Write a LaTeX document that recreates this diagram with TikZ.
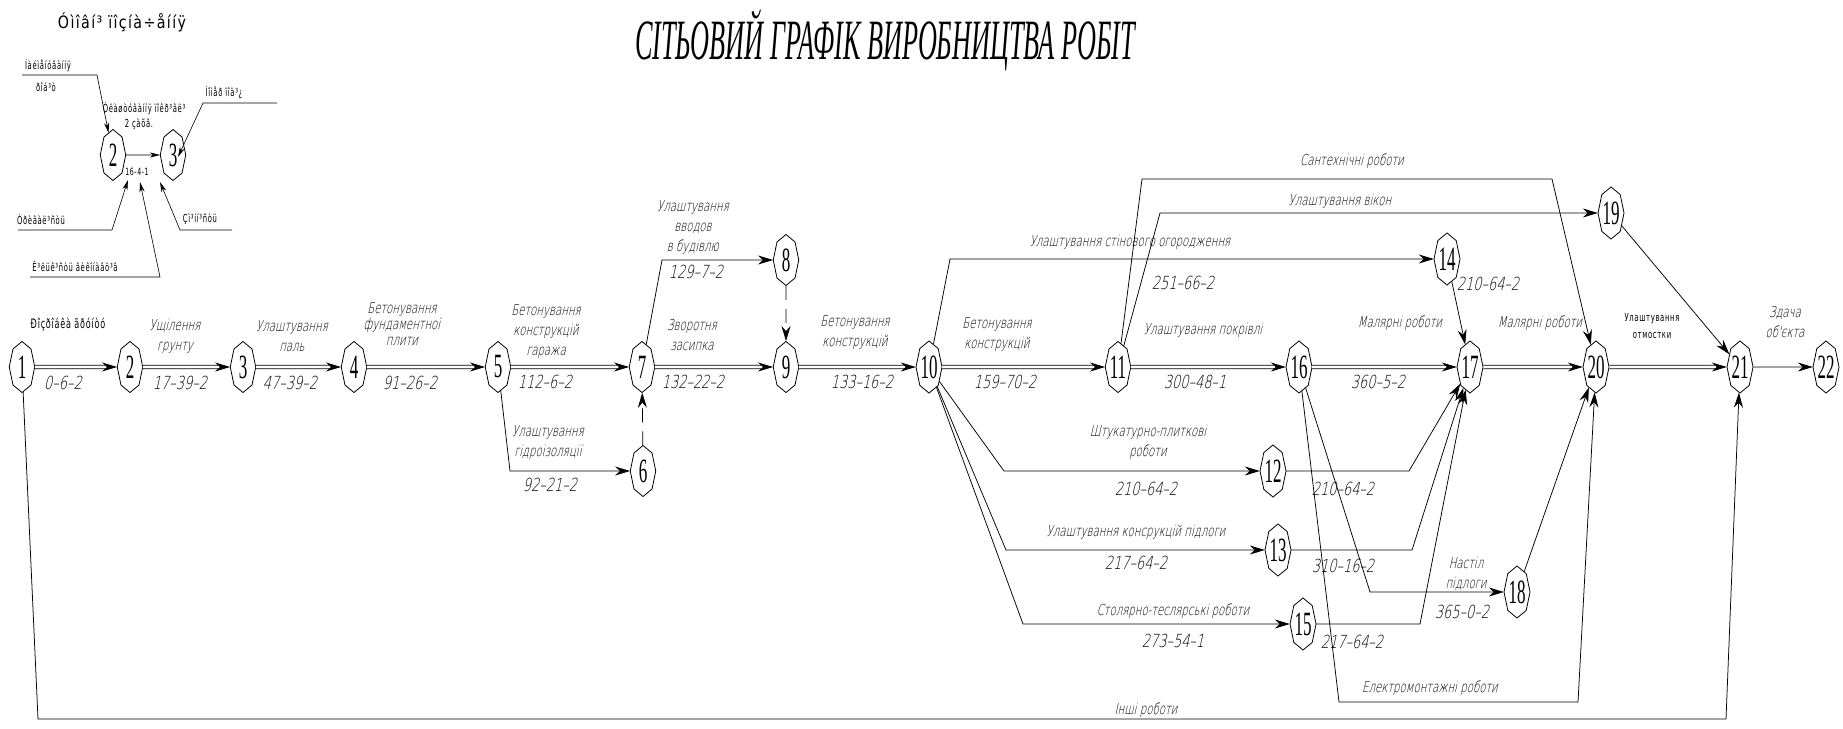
\documentclass[tikz,border=0pt]{standalone}
\usepackage{fontspec}
\usepackage{graphicx}
\usetikzlibrary{shapes.geometric,arrows.meta}
\newfontfamily\lblf[FakeStretch=0.68,FakeSlant=0.22]{DejaVu Sans ExtraLight}
\newfontfamily\numf[FakeStretch=0.72,FakeSlant=0.22]{DejaVu Sans ExtraLight}
\newfontfamily\lgf[FakeStretch=0.62,LetterSpace=6]{DejaVu Sans}
\newfontfamily\serf{Liberation Serif}
\begin{document}
\begin{tikzpicture}[x=1pt,y=-1pt,
  ev/.style={draw, line width=0.8pt, regular polygon, regular polygon sides=8,
    shape border rotate=22.5, minimum size=51pt, inner sep=0pt, xscale=0.5,
    transform shape, font=\serf\fontsize{34}{34}\selectfont},
  crit/.style={double, double distance=2.6pt, line width=0.75pt,
    -{Stealth[length=15pt,width=9pt,inset=5pt]}},
  act/.style={line width=0.75pt, -{Stealth[length=15pt,width=9pt,inset=5pt]}},
  dum/.style={act, dash pattern=on 14pt off 9pt},
  lgarr/.style={line width=0.6pt, -{Stealth[length=10pt,width=5pt,inset=3pt]}},
  lbl/.style={font=\lblf\fontsize{15}{20}\selectfont, align=center, inner sep=0pt},
  num/.style={font=\numf\fontsize{18}{18}\selectfont, inner sep=0pt},
  lg/.style={font=\lgf\fontsize{11}{14}\selectfont, align=center, inner sep=0pt},
]
\useasboundingbox (0,0) rectangle (1843,728);

% title
\node[inner sep=0pt] (title) at (885,40) {\resizebox{500pt}{\height}{\serf\itshape\fontsize{57}{60}\selectfont СІТЬОВИЙ ГРАФІК ВИРОБНИЦТВА РОБІТ}};

% ---------- legend ----------
\node[inner sep=0pt] (lgt) at (122,22) {\resizebox{128pt}{\height}{\lgf\fontsize{17}{18}\selectfont Óìîâí³ ïîçíà÷åííÿ}};
\node[ev] (m2) at (113,155) {2};
\node[ev] (m3) at (173,155) {3};
\draw[lgarr] (m2) -- (m3);
\node[lg, font=\lgf\fontsize{10}{12}\selectfont] (lgw) at (137,172) {16-4-1};
\node[lg] (lga) at (48,66) {Íàéìåíóâàííÿ};
\node[lg] (lgb) at (46,87) {ðîá³ò};
\draw[lgarr] (22,75) -- (97,75) -- (m2);
\node[lg] (lgc) at (144,109) {Óëàøòóâàííÿ ïîêð³âë³};
\node[lg] (lgd) at (139,124) {2 çàõâ.};
\node[lg] (lge) at (224,92) {Íîìåð ïîä³¿};
\coordinate (k3) at (178,157);
\draw[lgarr] (277,103) -- (203,103) -- (k3);
\node[lg] (lgf) at (41,219) {Òðèâàë³ñòü};
\coordinate (k1) at (128,180);
\draw[lgarr] (18,230) -- (112,230) -- (k1);
\node[lg] (lgg) at (75,266) {Ê³ëüê³ñòü âèêîíàâö³â};
\coordinate (k2) at (140,182);
\draw[lgarr] (30,277) -- (160,277) -- (k2);
\node[lg] (lgh) at (200,219) {Çì³íí³ñòü};
\coordinate (k4) at (160,182);
\draw[lgarr] (232,230) -- (180,230) -- (k4);

% ---------- events ----------
\node[ev] (n1) at (22,367) {1};
\node[ev] (n2) at (130,367) {2};
\node[ev] (n3) at (243,367) {3};
\node[ev] (n4) at (354,367) {4};
\node[ev] (n5) at (498,367) {5};
\node[ev] (n6) at (643,471) {6};
\node[ev] (n7) at (642,367) {7};
\node[ev] (n8) at (786,260) {8};
\node[ev] (n9) at (786,367) {9};
\node[ev] (n10) at (929,367) {10};
\node[ev] (n11) at (1118,367) {11};
\node[ev] (n12) at (1273,471) {12};
\node[ev] (n13) at (1278,550) {13};
\node[ev] (n14) at (1447,259) {14};
\node[ev] (n15) at (1303,624) {15};
\node[ev] (n16) at (1299,367) {16};
\node[ev] (n17) at (1470,367) {17};
\node[ev] (n18) at (1517,592) {18};
\node[ev] (n19) at (1611,213) {19};
\node[ev] (n20) at (1596,367) {20};
\node[ev] (n21) at (1740,367) {21};
\node[ev] (n22) at (1826,367) {22};

% ---------- critical path ----------
\draw[crit] (n1) -- (n2);
\draw[crit] (n2) -- (n3);
\draw[crit] (n3) -- (n4);
\draw[crit] (n4) -- (n5);
\draw[crit] (n5) -- (n7);
\draw[crit] (n7) -- (n9);
\draw[crit] (n9) -- (n10);
\draw[crit] (n10) -- (n11);
\draw[crit] (n11) -- (n16);
\draw[crit] (n16) -- (n17);
\draw[crit] (n17) -- (n20);
\draw[crit] (n20) -- (n21);
\draw[act] (n21) -- (n22);

% ---------- other activities ----------
\draw[act] (n5) -- (510,471) -- (n6);
\draw[dum] (n6) -- (n7);
\draw[act] (n7) -- (662,260) -- (n8);
\draw[dum] (n8) -- (n9);
\draw[act] (n10) -- (950,259) -- (n14);
\draw[act] (n11) -- (1142,179) -- (1552,179) -- (n20);
\draw[act] (n11) -- (1160,213) -- (n19);
\draw[act] (n14) -- (n17);
\draw[act] (n19) -- (n21);
\draw[act] (n10) -- (1004,471) -- (n12);
\draw[act] (n10) -- (1006,550) -- (n13);
\draw[act] (n10) -- (1023,624) -- (n15);
\draw[act] (n12) -- (1409,471) -- (n17);
\draw[act] (n13) -- (1412,550) -- (n17);
\draw[act] (n15) -- (1420,624) -- (n17);
\draw[act] (n16) -- (1370,592) -- (n18);
\draw[act] (n16) -- (1339,702) -- (1578,702) -- (n20);
\draw[act] (n18) -- (n20);
\draw[act] (n1) -- (38,719) -- (1726,719) -- (n21);

% ---------- labels ----------
\node[lg, font=\lgf\fontsize{13}{15}\selectfont] (t1) at (68,325) {Ðîçðîáêà ãðóíòó};
\node[num] (d1) at (63,383) {0–6–2};
\node[lbl] (t2) at (175,336) {Ущілення\\грунту};
\node[num] (d2) at (180,383) {17–39–2};
\node[lbl] (t3) at (292,336) {Улаштування\\паль};
\node[num] (d3) at (290,383) {47–39–2};
\node[lbl, font=\lblf\fontsize{15}{16}\selectfont] (t4) at (402,324) {Бетонування\\фундаментної\\плити};
\node[num] (d4) at (410,383) {91–26–2};
\node[lbl] (t5) at (546,332) {Бетонування\\конструкцій\\гаража};
\node[num] (d5) at (545,382) {112–6–2};
\node[lbl] (t6) at (692,335) {Зворотня\\засипка};
\node[num] (d6) at (693,382) {132–22–2};
\node[lbl] (t7) at (855,333) {Бетонування\\конструкцій};
\node[num] (d7) at (862,382) {133–16–2};
\node[lbl] (t8) at (997,335) {Бетонування\\конструкцій};
\node[num] (d8) at (1005,382) {159–70–2};
\node[lbl] (t9) at (1203,330) {Улаштування покрівлі};
\node[num] (d9) at (1195,382) {300–48–1};
\node[lbl] (t10) at (1400,323) {Малярні роботи};
\node[num] (d10) at (1378,382) {360–5–2};
\node[lbl] (t11) at (1540,323) {Малярні роботи};
\node[lg, font=\lgf\fontsize{11}{17}\selectfont] (t12) at (1652,326) {Улаштування\\отмостки};
\node[lbl] (t13) at (1785,322) {Здача\\об'єкта};

\node[lbl] (t14) at (693,227) {Улаштування\\вводов\\в будівлю};
\node[num] (d14) at (696,272) {129–7–2};
\node[lbl] (t15) at (548,443) {Улаштування\\гідроізоляції};
\node[num] (d15) at (550,485) {92–21–2};
\node[lbl] (t16) at (1130,242) {Улаштування стінового огородження};
\node[num] (d16) at (1183,283) {251–66–2};
\node[lbl] (t17) at (1352,161) {Сантехнічні роботи};
\node[lbl] (t18) at (1340,201) {Улаштування вікон};
\node[num] (d18) at (1488,284) {210–64–2};
\node[lbl] (t19) at (1148,442) {Штукатурно-плиткові\\роботи};
\node[num] (d19) at (1146,489) {210–64–2};
\node[lbl] (t20) at (1136,532) {Улаштування консрукцій підлоги};
\node[num] (d20) at (1136,563) {217–64–2};
\node[lbl] (t21) at (1173,611) {Столярно-теслярські роботи};
\node[num] (d21) at (1173,641) {273–54–1};
\node[num] (d22) at (1343,489) {210–64–2};
\node[num] (d23) at (1343,566) {310–16–2};
\node[num] (d24) at (1352,642) {217–64–2};
\node[lbl] (t25) at (1466,574) {Настіл\\підлоги};
\node[num] (d25) at (1462,612) {365–0–2};
\node[lbl] (t26) at (1430,688) {Електромонтажні роботи};
\node[lbl] (t27) at (1146,710) {Інші роботи};
\end{tikzpicture}
\end{document}
